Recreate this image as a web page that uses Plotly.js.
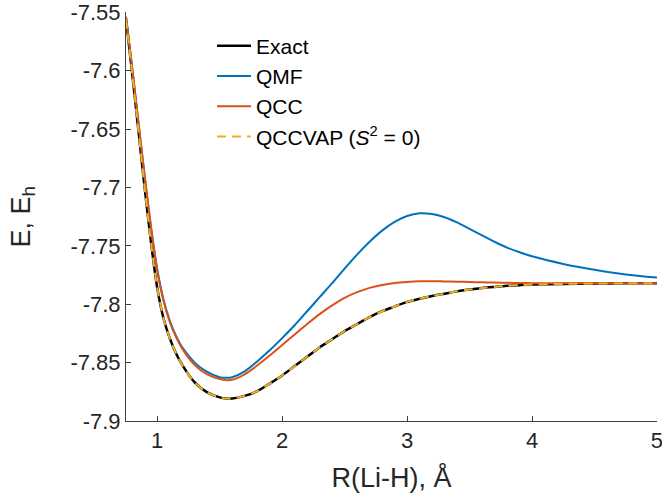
<!DOCTYPE html>
<html>
<head>
<meta charset="utf-8">
<script src="https://cdn.plot.ly/plotly-3.0.1.min.js"></script>
<style>html,body{margin:0;padding:0;background:#fff;}#chart{width:662px;height:493px;}</style>
</head>
<body>
<div id="chart"></div>
<script>
// Bond length R(Li-H) in Angstrom
const bondLength = [0.75, 0.8, 0.85, 0.9, 0.95, 1.0, 1.05, 1.1, 1.15, 1.2, 1.3, 1.4, 1.5, 1.55, 1.6, 1.7, 1.8, 1.9, 2.0, 2.1, 2.2, 2.3, 2.4, 2.5, 2.6, 2.7, 2.8, 2.9, 3.0, 3.1, 3.2, 3.3, 3.4, 3.5, 3.6, 3.7, 3.8, 3.9, 4.0, 4.25, 4.5, 4.75, 5.0];
// Energies in Hartree
const exactE = [-7.556, -7.603, -7.652, -7.701, -7.747, -7.786, -7.812, -7.829, -7.842, -7.852, -7.867, -7.8755, -7.8798, -7.8808, -7.8808, -7.8785, -7.8745, -7.868, -7.861, -7.853, -7.845, -7.837, -7.830, -7.823, -7.817, -7.811, -7.806, -7.802, -7.798, -7.7953, -7.793, -7.791, -7.789, -7.7875, -7.7862, -7.7852, -7.7843, -7.7837, -7.7832, -7.7826, -7.7823, -7.7821, -7.782];
const qmfE = [-7.554, -7.598, -7.645, -7.691, -7.734, -7.770, -7.796, -7.814, -7.827, -7.837, -7.850, -7.858, -7.8625, -7.863, -7.8625, -7.8575, -7.849, -7.8395, -7.829, -7.818, -7.806, -7.794, -7.782, -7.7695, -7.7575, -7.7465, -7.737, -7.7295, -7.7245, -7.7222, -7.7228, -7.7255, -7.730, -7.7355, -7.741, -7.7465, -7.7515, -7.7555, -7.759, -7.7655, -7.7705, -7.7745, -7.7772];
const qccE = [-7.554, -7.598, -7.645, -7.691, -7.734, -7.771, -7.797, -7.815, -7.828, -7.838, -7.852, -7.860, -7.864, -7.865, -7.8647, -7.860, -7.8525, -7.844, -7.835, -7.826, -7.817, -7.8085, -7.801, -7.7945, -7.7897, -7.786, -7.7835, -7.7818, -7.7809, -7.7804, -7.7803, -7.7805, -7.7807, -7.781, -7.7812, -7.7815, -7.7817, -7.7818, -7.782, -7.782, -7.782, -7.782, -7.782];
const qccvapE = [-7.556, -7.603, -7.652, -7.701, -7.747, -7.786, -7.812, -7.829, -7.842, -7.852, -7.867, -7.8755, -7.8798, -7.8808, -7.8808, -7.8785, -7.8745, -7.868, -7.861, -7.853, -7.845, -7.837, -7.830, -7.823, -7.817, -7.811, -7.806, -7.802, -7.798, -7.7953, -7.793, -7.791, -7.789, -7.7875, -7.7862, -7.7852, -7.7843, -7.7837, -7.7832, -7.7826, -7.7823, -7.7821, -7.782];

const seriesNames = ['Exact', 'QMF', 'QCC', 'QCCVAP (<i>S</i><sup>2</sup> = 0)'];
const xTickVals = [1, 2, 3, 4, 5];
const xTickText = ['1', '2', '3', '4', '5'];
const yTickVals = [-7.9, -7.85, -7.8, -7.75, -7.7, -7.65, -7.6, -7.55];
const yTickText = ['-7.9', '-7.85', '-7.8', '-7.75', '-7.7', '-7.65', '-7.6', '-7.55'];
const xTitle = 'R(Li-H), Å';
const yTitle = 'E, E<sub>h</sub>';

const font = 'Liberation Sans, Arial, Helvetica, sans-serif';
const traces = [
  {x: bondLength, y: exactE, name: seriesNames[0], mode: 'lines', line: {color: '#000000', width: 2.5, shape: 'spline', smoothing: 0.8}},
  {x: bondLength, y: qmfE, name: seriesNames[1], mode: 'lines', line: {color: '#0072BD', width: 2, shape: 'spline', smoothing: 0.8}},
  {x: bondLength, y: qccE, name: seriesNames[2], mode: 'lines', line: {color: '#D95319', width: 2, shape: 'spline', smoothing: 0.8}},
  {x: bondLength, y: qccvapE, name: seriesNames[3], mode: 'lines', line: {color: '#EDB120', width: 2, dash: '9px,6px', shape: 'spline', smoothing: 0.8}}
];

const layout = {
  width: 662, height: 493,
  margin: {l: 126, r: 5, t: 12, b: 72},
  paper_bgcolor: '#ffffff', plot_bgcolor: '#ffffff',
  font: {family: font, color: '#262626', size: 22},
  showlegend: true,
  legend: {x: 0.162, y: 0.967, xanchor: 'left', yanchor: 'top', bgcolor: 'rgba(0,0,0,0)', font: {size: 21, color: '#000000'}, tracegroupgap: 0, itemwidth: 34},
  xaxis: {
    range: [0.75, 5.0005], tickvals: xTickVals, ticktext: xTickText,
    ticks: 'inside', ticklen: 5, tickcolor: '#404040', showline: true, linecolor: '#404040', linewidth: 1,
    showgrid: false, zeroline: false, mirror: false, ticklabeloverflow: 'allow',
    tickfont: {size: 22, color: '#262626'},
    title: {text: xTitle, font: {size: 27, color: '#262626'}}
  },
  yaxis: {
    range: [-7.9, -7.5498], tickvals: yTickVals, ticktext: yTickText,
    ticks: 'inside', ticklen: 5, tickcolor: '#404040', showline: true, linecolor: '#404040', linewidth: 1,
    showgrid: false, zeroline: false, mirror: false, ticklabeloverflow: 'allow',
    tickfont: {size: 22, color: '#262626'}
  },
  annotations: [{
    text: yTitle, textangle: -90, xref: 'paper', yref: 'paper', x: 0, y: 0.5,
    xanchor: 'center', yanchor: 'middle', xshift: -104, showarrow: false,
    font: {size: 27, color: '#262626', family: font}
  }]
};

Plotly.newPlot('chart', traces, layout, {displayModeBar: false, staticPlot: true});
</script>
</body>
</html>
